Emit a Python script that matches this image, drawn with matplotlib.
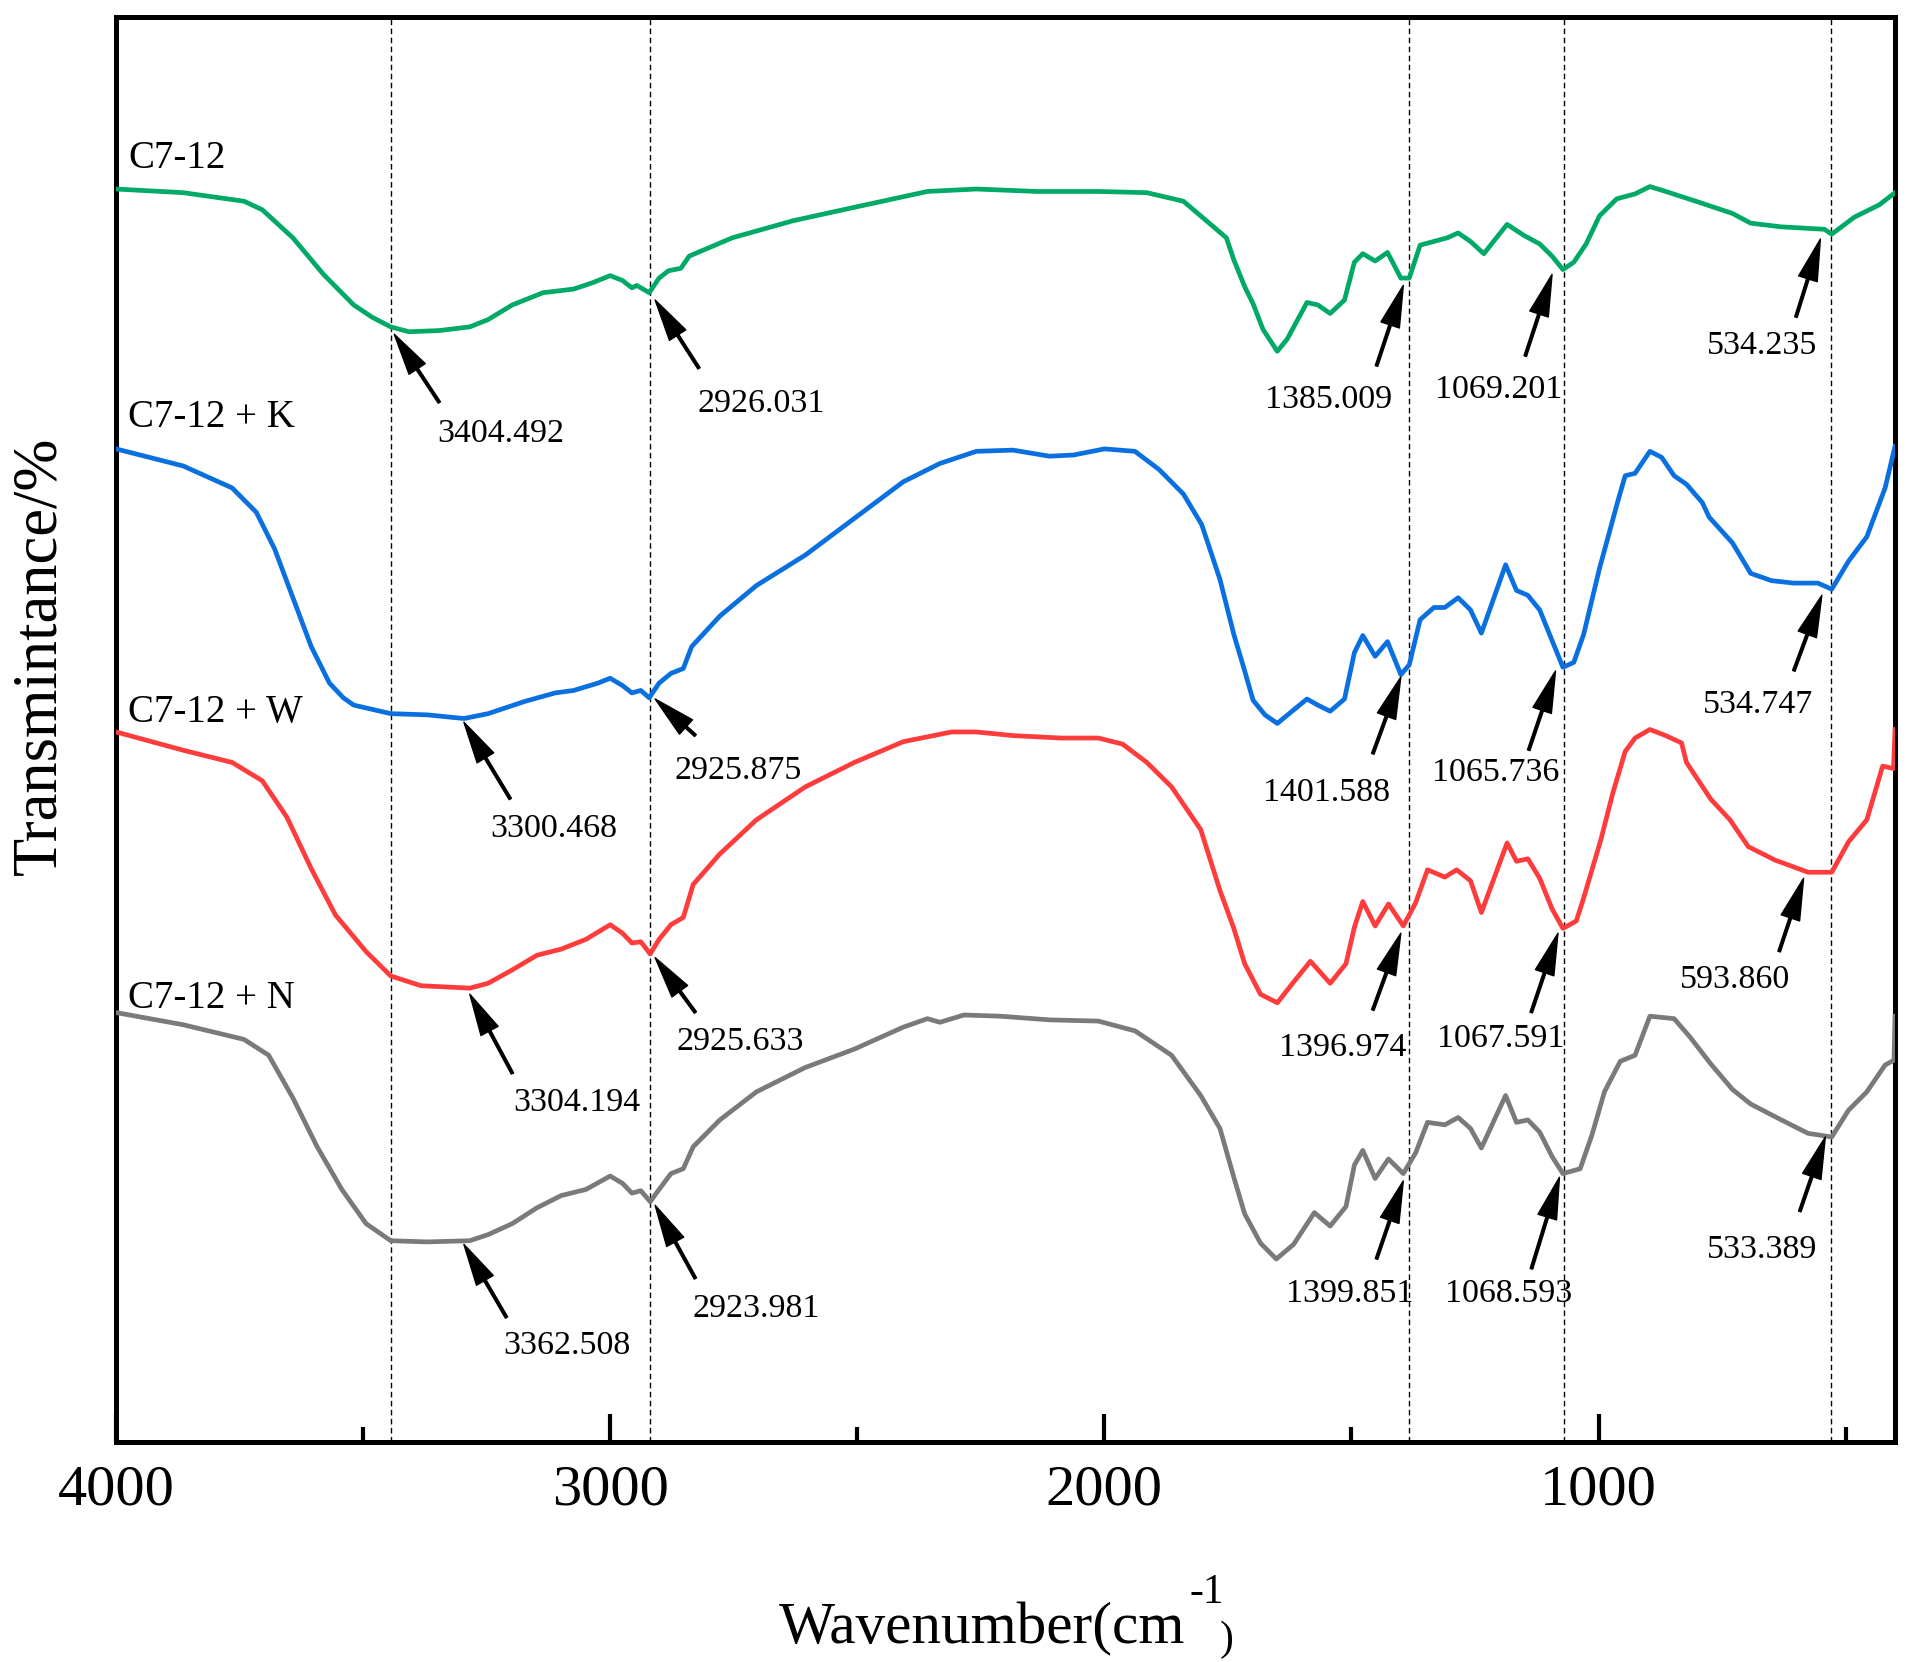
import matplotlib
matplotlib.use('Agg')
import matplotlib.pyplot as plt
from matplotlib.ticker import MultipleLocator

plt.rcParams['font.family'] = ['Liberation Serif', 'DejaVu Serif']

# FTIR spectra: wavenumber (cm-1) and transmittance (a.u., stacked)
wn_c712 = [4000, 3864, 3741, 3704, 3642, 3580, 3519, 3482, 3444, 3407, 3346,
           3284, 3247, 3198, 3136, 3074, 3037, 3000, 2975, 2956, 2946,
           2921, 2901, 2882, 2857, 2840, 2753, 2630, 2506, 2358, 2259,
           2136, 2012, 1914, 1840, 1805, 1753, 1738, 1716, 1699, 1679,
           1650, 1630, 1590, 1568, 1543, 1514, 1494, 1477, 1452, 1427,
           1400, 1383, 1361, 1306, 1284, 1259, 1232, 1185, 1151, 1119,
           1094, 1072, 1050, 1025, 998, 963, 926, 896, 864, 803,
           729, 692, 630, 543, 528, 482, 432, 400]
t_c712 = [102.7, 102.4, 101.7, 101.0, 98.7, 95.7, 93.2, 92.2, 91.4, 91.0, 91.1,
          91.4, 92.0, 93.2, 94.2, 94.5, 95.0, 95.6, 95.2, 94.6, 94.8,
          94.2, 95.4, 96.0, 96.2, 97.2, 98.7, 100.1, 101.2, 102.5, 102.7,
          102.5, 102.5, 102.4, 101.7, 100.5, 98.7, 96.9, 94.7, 93.3, 91.2,
          89.4, 90.4, 93.4, 93.2, 92.5, 93.6, 96.7, 97.4, 96.8, 97.5,
          95.4, 95.4, 98.1, 98.7, 99.1, 98.4, 97.4, 99.8, 98.9, 98.2,
          97.2, 96.1, 96.7, 98.2, 100.5, 101.9, 102.3, 102.9, 102.5, 101.7,
          100.7, 99.9, 99.6, 99.4, 99.0, 100.4, 101.4, 102.4]

wn_k = [4000, 3864, 3765, 3716, 3679, 3642, 3605, 3568, 3540, 3519, 3444,
        3370, 3296, 3247, 3173, 3111, 3074, 3025, 3000, 2975, 2956,
        2938, 2921, 2901, 2877, 2852, 2835, 2778, 2704, 2605, 2506,
        2407, 2333, 2259, 2185, 2111, 2062, 2000, 1938, 1889, 1840,
        1803, 1766, 1738, 1716, 1699, 1675, 1650, 1617, 1590, 1568, 1543,
        1514, 1494, 1477, 1452, 1427, 1400, 1383, 1361, 1333, 1311,
        1284, 1259, 1237, 1188, 1166, 1143, 1119, 1094, 1072, 1050,
        1030, 998, 961, 946, 926, 896, 872, 847, 822, 790,
        776, 729, 692, 650, 605, 556, 528, 494, 457, 420,
        400]
t_k = [81.4, 80.0, 78.2, 76.2, 73.2, 69.2, 65.2, 62.2, 61.0, 60.4, 59.7,
       59.6, 59.3, 59.7, 60.7, 61.4, 61.6, 62.2, 62.6, 62.0, 61.4,
       61.6, 61.0, 62.2, 63.0, 63.4, 65.2, 67.7, 70.2, 72.7, 75.7,
       78.7, 80.2, 81.2, 81.3, 80.8, 80.9, 81.4, 81.2, 79.7, 77.7,
       75.2, 70.7, 66.2, 63.2, 60.8, 59.6, 58.9, 60.0, 60.9, 60.4, 59.9,
       60.9, 64.7, 66.1, 64.4, 65.6, 62.9, 63.7, 67.4, 68.4, 68.4,
       69.2, 68.2, 66.3, 71.9, 69.8, 69.4, 68.2, 65.7, 63.5, 63.9,
       66.2, 71.6, 77.1, 79.2, 79.4, 81.2, 80.7, 79.2, 78.5, 77.0,
       75.8, 73.7, 71.2, 70.6, 70.4, 70.4, 69.9, 72.2, 74.2, 78.2,
       81.6]

wn_w = [4000, 3864, 3765, 3704, 3654, 3605, 3556, 3494, 3444, 3383,
        3284, 3247, 3198, 3148, 3099, 3049, 3000, 2975, 2956, 2938,
        2919, 2901, 2877, 2852, 2832, 2778, 2704, 2605, 2506, 2407,
        2309, 2259, 2185, 2087, 2012, 1963, 1914, 1864, 1805, 1766,
        1738, 1716, 1684, 1650, 1617, 1583, 1543, 1511, 1494, 1477,
        1452, 1425, 1395, 1370, 1346, 1311, 1287, 1259, 1237, 1185,
        1166, 1143, 1119, 1094, 1072, 1045, 1030, 995, 971, 946,
        926, 896, 864, 832, 822, 773, 734, 697, 643, 576,
        528, 494, 457, 425, 403, 400]
t_w = [58.2, 56.7, 55.7, 54.2, 51.2, 47.0, 43.2, 40.2, 38.2, 37.4,
       37.2, 37.6, 38.7, 39.9, 40.4, 41.2, 42.4, 41.7, 40.9, 41.0,
       40.0, 41.2, 42.4, 43.0, 45.7, 48.2, 51.0, 53.7, 55.7, 57.4,
       58.2, 58.2, 57.9, 57.7, 57.7, 57.2, 55.7, 53.7, 50.2, 45.2,
       42.1, 39.2, 36.7, 36.0, 37.7, 39.4, 37.6, 39.2, 42.2, 44.3,
       42.3, 44.1, 42.3, 44.2, 46.9, 46.3, 46.9, 46.0, 43.4, 49.1,
       47.6, 47.8, 46.2, 43.7, 42.1, 42.7, 44.6, 49.4, 53.2, 56.6,
       57.7, 58.4, 57.9, 57.3, 55.7, 52.7, 51.0, 48.8, 47.7, 46.7,
       46.7, 49.2, 51.0, 55.4, 55.2, 58.4]

wn_n = [4000, 3864, 3741, 3691, 3642, 3593, 3543, 3494, 3444, 3370,
        3284, 3247, 3198, 3148, 3099, 3049, 3000, 2975, 2956, 2938,
        2919, 2901, 2877, 2852, 2832, 2778, 2704, 2605, 2506, 2407,
        2358, 2333, 2284, 2210, 2111, 2012, 1938, 1864, 1805, 1766,
        1738, 1716, 1684, 1652, 1617, 1575, 1543, 1511, 1494, 1477,
        1452, 1425, 1395, 1370, 1346, 1311, 1284, 1259, 1237, 1188,
        1166, 1143, 1119, 1094, 1072, 1037, 1013, 988, 956, 926,
        896, 847, 815, 773, 729, 692, 630, 576, 528, 494,
        457, 420, 402, 400]
t_n = [35.2, 34.2, 33.0, 31.7, 28.2, 24.2, 20.7, 17.9, 16.5, 16.4,
       16.5, 17.0, 17.9, 19.2, 20.2, 20.7, 21.8, 21.2, 20.4, 20.6,
       19.7, 20.7, 22.0, 22.4, 24.2, 26.4, 28.7, 30.7, 32.2, 34.0,
       34.7, 34.4, 35.0, 34.9, 34.6, 34.5, 33.7, 31.7, 28.4, 25.7,
       21.7, 18.7, 16.3, 15.0, 16.2, 18.8, 17.7, 19.3, 22.7, 23.9,
       21.6, 23.2, 22.0, 23.7, 26.2, 26.0, 26.6, 25.7, 24.1, 28.4,
       26.2, 26.4, 25.4, 23.4, 22.0, 22.4, 25.2, 28.7, 31.2, 31.7,
       34.9, 34.7, 33.2, 31.0, 28.9, 27.7, 26.4, 25.3, 25.0, 27.2,
       28.7, 30.9, 31.3, 34.9]

names = ['C7-12', 'C7-12 + K', 'C7-12 + W', 'C7-12 + N']
name_y = [104.4, 83.2, 59.0, 35.6]
colors = ['#00AA66', '#0A70E0', '#FF3C3C', '#7A7A7A']

# marked bands: label, arrow tip (wavenumber, transmittance)
peak_labels = ['3404.492', '2926.031', '1385.009', '1069.201', '534.235',
               '3300.468', '2925.875', '1401.588', '1065.736', '534.747',
               '3304.194', '2925.633', '1396.974', '1067.591', '593.860',
               '3362.508', '2923.981', '1399.851', '1068.593', '533.389']
peak_wn = [3437, 2909, 1395, 1094, 551,
           3296, 2909, 1400, 1087, 548,
           3284, 2909, 1400, 1082, 585,
           3296, 2909, 1395, 1079, 541]
peak_t = [90.8, 93.6, 94.8, 95.7, 98.6,
          59.0, 60.9, 62.7, 63.2, 69.4,
          36.7, 39.7, 41.7, 41.7, 46.2,
          16.2, 19.4, 21.4, 21.7, 25.0]

guide_wn = [3444, 2920, 1383, 1069, 530]

# arrow tails and label baselines, offset points from the tip
tail_off = [(32.5, -49.2), (31.6, -49.2), (-19.3, -58), (-19.3, -58.8), (-17.6, -56.2),
            (33.4, -55.3), (29, -26.3), (-20.2, -55.3), (-19.3, -57.1), (-20.2, -54.4),
            (30.7, -57.1), (29, -39.5), (-20.2, -55.3), (-19.3, -57.1), (-17.6, -52.7),
            (30.7, -52.7), (29, -52.7), (-19.3, -56.2), (-20.2, -65.9), (-18.4, -53.6)]
text_off = [(76.4, -77.7), (76.4, -80.3), (-53.5, -88.2), (-38.6, -89.1), (-42.1, -83.0),
            (65.0, -83.0), (59.7, -57.5), (-53.5, -89.1), (-43.0, -79.5), (-45.7, -84.7),
            (77.3, -83.8), (61.5, -66.3), (-42.1, -88.2), (-41.3, -82.1), (-49.2, -78.6),
            (73.8, -78.6), (72.9, -80.3), (-38.6, -87.4), (-36.9, -90.0), (-45.7, -87.4)]

fig = plt.figure(figsize=(19.13, 16.62), dpi=100)
ax = fig.add_axes([116 / 1913, 1 - 1442 / 1662, (1895 - 116) / 1913, (1442 - 17) / 1662])

for g in guide_wn:
    ax.axvline(g, color='black', lw=1.0, ls=(0, (4, 2.5)), zorder=1)

series = [(wn_c712, t_c712), (wn_k, t_k), (wn_w, t_w), (wn_n, t_n)]
for (x, y), c in zip(series, colors):
    ax.plot(x, y, color=c, lw=3.4, solid_joinstyle='round', zorder=3)

for nm, ny in zip(names, name_y):
    ax.text(3975, ny, nm, fontsize=28, ha='left', va='baseline')

for lab, px, py, to, xo in zip(peak_labels, peak_wn, peak_t, tail_off, text_off):
    ax.annotate('', xy=(px, py), xytext=to, textcoords='offset points',
                arrowprops=dict(facecolor='black', edgecolor='black', width=1.9,
                                headwidth=14, headlength=30, shrink=0),
                zorder=4)
    ax.annotate(lab, xy=(px, py), xytext=xo, textcoords='offset points',
                fontsize=24.5, ha='center', va='baseline')

ax.set_xlim(4000, 400)
ax.set_ylim(0, 116.8)
ax.xaxis.set_major_locator(MultipleLocator(1000))
ax.xaxis.set_minor_locator(MultipleLocator(500))
ax.tick_params(axis='x', which='major', direction='in', length=20, width=3,
               labelsize=42, pad=16, top=False)
ax.tick_params(axis='x', which='minor', direction='in', length=11, width=3, top=False)
ax.set_yticks([])
for s in ax.spines.values():
    s.set_linewidth(3.6)

fig.text(40 / 1913, 1 - 656 / 1662, 'Transmintance/%', fontsize=45,
         rotation=90, ha='center', va='center')

# x label in pieces: raised "-1" and a small closing bracket after "cm"
xl = fig.text(779 / 1913, 1 - 1643 / 1662, 'Wavenumber(cm', fontsize=42.7,
              ha='left', va='baseline')
ax.annotate('-1', xy=(1, 1 - 1603 / 1662), xycoords=(xl, 'figure fraction'),
            xytext=(3, 0), textcoords='offset points', fontsize=30,
            ha='left', va='baseline', annotation_clip=False)
ax.annotate(')', xy=(1, 1 - 1650 / 1662), xycoords=(xl, 'figure fraction'),
            xytext=(25, 0), textcoords='offset points', fontsize=30,
            ha='left', va='baseline', annotation_clip=False)

fig.savefig('out.png', dpi=100)
